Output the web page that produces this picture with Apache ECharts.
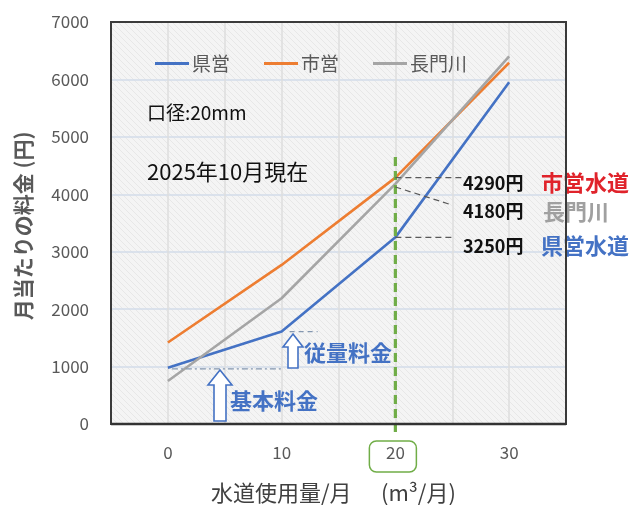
<!DOCTYPE html>
<html>
<head>
<meta charset="utf-8">
<script src="https://cdn.jsdelivr.net/npm/echarts@6/dist/echarts.min.js"></script>
<style>
  html, body { margin: 0; padding: 0; background: #ffffff; }
  #chart { width: 636px; height: 505px; }
</style>
</head>
<body>
<div id="chart"></div>
<script>
// 水道使用量 (m³/月)
const usage = ['0', '10', '20', '30'];
// 月当たりの料金 (円), 口径20mm
const kenei = [980, 1610, 3250, 5950];       // 県営
const shiei = [1420, 2770, 4290, 6290];      // 市営
const nagatogawa = [750, 2190, 4180, 6400];  // 長門川
const seriesNames = ['県営', '市営', '長門川'];
const yTicks = { min: 0, max: 7000, interval: 1000 };
// 基本料金の水準 (県営)
const basicFee = 960;

const FONT = '"Noto Sans CJK JP", "Noto Sans", sans-serif';
const BLUE = '#4472C4', ORANGE = '#ED7D31', GRAY = '#A5A5A5', GREEN = '#70AD47';
const W = 636, H = 505;
const PLOT = { left: 111, right: 70, top: 22, bottom: 81 };

// light diagonal hatch for the plot area
function hatch() {
  const c = document.createElement('canvas');
  c.width = 6; c.height = 6;
  const g = c.getContext('2d');
  g.fillStyle = '#f4f4f4';
  g.fillRect(0, 0, 6, 6);
  g.strokeStyle = '#e7e7e7';
  g.lineWidth = 1;
  g.beginPath();
  g.moveTo(0, 0); g.lineTo(6, 6);
  g.moveTo(-3, 3); g.lineTo(3, 9);
  g.moveTo(3, -3); g.lineTo(9, 3);
  g.stroke();
  return c;
}

const chart = echarts.init(document.getElementById('chart'), null, { renderer: 'canvas' });

function lineSeries(name, data, color) {
  return {
    name, type: 'line', data,
    xAxisIndex: 0, yAxisIndex: 0,
    symbol: 'none', smooth: false,
    lineStyle: { color, width: 2.6 },
    itemStyle: { color },
    z: 5
  };
}

chart.setOption({
  animation: false,
  textStyle: { fontFamily: FONT },
  grid: {
    left: PLOT.left, right: PLOT.right, top: PLOT.top, bottom: PLOT.bottom,
    show: false
  },
  legend: {
    data: seriesNames,
    left: 150, top: 49,
    itemWidth: 34, itemHeight: 3, itemGap: 34,
    icon: 'rect',
    textStyle: { fontSize: 19, color: '#595959', fontFamily: FONT, padding: [0, 0, 0, -2] }
  },
  xAxis: [
    {
      type: 'category', data: usage, boundaryGap: true,
      axisLine: { show: false }, axisTick: { show: false },
      splitLine: { show: false },
      axisLabel: { fontSize: 17, color: '#595959', margin: 20, fontFamily: FONT }
    },
    {
      // helper axis for faint vertical gridlines at half-category steps
      type: 'value', min: 0, max: 8, interval: 1, show: true,
      position: 'bottom',
      axisLine: { show: false }, axisTick: { show: false }, axisLabel: { show: false },
      splitLine: { show: true, lineStyle: { color: '#dedede', width: 1.5 } }
    }
  ],
  yAxis: {
    type: 'value', min: yTicks.min, max: yTicks.max, interval: yTicks.interval,
    axisLine: { show: false }, axisTick: { show: false },
    axisLabel: { fontSize: 17, color: '#595959', margin: 22, fontFamily: FONT,
      formatter: v => String(v) },
    splitLine: { lineStyle: { color: '#d3dcea', width: 1.5 } }
  },
  series: [
    lineSeries(seriesNames[0], kenei, BLUE),
    lineSeries(seriesNames[1], shiei, ORANGE),
    lineSeries(seriesNames[2], nagatogawa, GRAY)
  ]
});

// annotations positioned from data coordinates
const px = (i, v) => chart.convertToPixel({ xAxisIndex: 0, yAxisIndex: 0 }, [i, v]);
const pShi = px(2, shiei[2]);
const pNag = px(2, nagatogawa[2]);
const pKen = px(2, kenei[2]);
const pGreenTop = px(2, 4650);
const pGreenBot = px(2, -140);
const pBasicA = px(0, basicFee);
const pBasicB = px(1, basicFee);
const pTier = px(1, kenei[1]);
const plotW = W - PLOT.left - PLOT.right, plotH = H - PLOT.top - PLOT.bottom;

function dashed(x1, y1, x2, y2, color, dash, w) {
  return { type: 'line', z: 20, shape: { x1, y1, x2, y2 },
    style: { stroke: color, lineWidth: w || 1.2, lineDash: dash || [5, 3] } };
}
function txt(x, y, text, size, color, weight, align) {
  return { type: 'text', z: 30, x, y,
    style: { text, fontSize: size, fill: color, fontWeight: weight || 'normal',
      fontFamily: FONT, align: align || 'left', verticalAlign: 'middle' } };
}
function upArrow(cx, top, headBase, bottom, headHalf, shaftHalf) {
  return { type: 'polygon', z: 25,
    shape: { points: [
      [cx, top], [cx + headHalf, headBase], [cx + shaftHalf, headBase], [cx + shaftHalf, bottom],
      [cx - shaftHalf, bottom], [cx - shaftHalf, headBase], [cx - headHalf, headBase]
    ] },
    style: { fill: '#ffffff', stroke: BLUE, lineWidth: 1.6 } };
}

chart.setOption({
  graphic: [
    // hatched plot background, beneath gridlines and series
    { type: 'rect', z: -10, silent: true,
      shape: { x: PLOT.left, y: PLOT.top, width: plotW, height: plotH },
      style: { fill: { image: hatch(), repeat: 'repeat' } } },
    // plot frame
    { type: 'rect', z: 40, silent: true,
      shape: { x: PLOT.left, y: PLOT.top, width: plotW, height: plotH },
      style: { fill: 'none', stroke: '#3a3a3a', lineWidth: 2 } },
    { type: 'line', z: 40, silent: true,
      shape: { x1: PLOT.left, y1: PLOT.top + plotH, x2: PLOT.left + plotW, y2: PLOT.top + plotH },
      style: { stroke: '#333333', lineWidth: 2.6 } },

    // usage level 20 m³ marker
    dashed(pGreenTop[0], pGreenTop[1], pGreenBot[0], pGreenBot[1], GREEN, [9, 5], 3.2),
    { type: 'rect', z: 20, shape: { x: pKen[0] - 26, y: 441, width: 47, height: 31, r: 7 },
      style: { fill: 'none', stroke: GREEN, lineWidth: 1.5 } },

    // leader lines to the values at 20 m³
    dashed(pShi[0], pShi[1], 462, pShi[1], '#595959', [6, 4], 1.2),
    dashed(pNag[0], pNag[1] + 3, 452, 205, '#595959', [6, 4], 1.2),
    dashed(pKen[0], pKen[1], 452, pKen[1], '#595959', [6, 4], 1.2),

    txt(463, 183, '4290円', 18, '#111111', 'bold'),
    txt(541, 183, '市営水道', 22, '#E0232B', 'bold'),
    txt(463, 211, '4180円', 18, '#111111', 'bold'),
    txt(543, 212, '長門川', 22, '#A0A0A0', 'bold'),
    txt(463, 246, '3250円', 18, '#111111', 'bold'),
    txt(541, 246, '県営水道', 22, BLUE, 'bold'),

    // plot notes
    txt(147, 113, '口径:20mm', 19, '#111111'),
    txt(147, 172, '2025年10月現在', 22, '#111111'),

    // basic fee / volume charge breakdown
    dashed(pBasicA[0] + 4, pBasicA[1], pBasicB[0] + 2, pBasicA[1], '#8497B0', [6, 3, 2, 3], 1.4),
    dashed(pTier[0] + 8, pTier[1], pTier[0] + 36, pTier[1], '#8497B0', [5, 4], 1.2),
    upArrow(220, 370, 385, 421, 12, 6),
    upArrow(293, 334, 347, 368, 10, 5),
    txt(230, 401, '基本料金', 22, BLUE, 'bold'),
    txt(304, 353, '従量料金', 22, BLUE, 'bold'),

    // axis titles
    { type: 'text', z: 30, x: 23, y: 226, rotation: Math.PI / 2,
      style: { text: '月当たりの料金 (円)', fontSize: 21, fontWeight: 'bold', fill: '#595959',
        fontFamily: FONT, align: 'center', verticalAlign: 'middle' } },
    txt(211, 493, '水道使用量/月', 22, '#404040'),
    txt(381, 493, '(m³/月)', 22, '#404040')
  ]
});
</script>
</body>
</html>
